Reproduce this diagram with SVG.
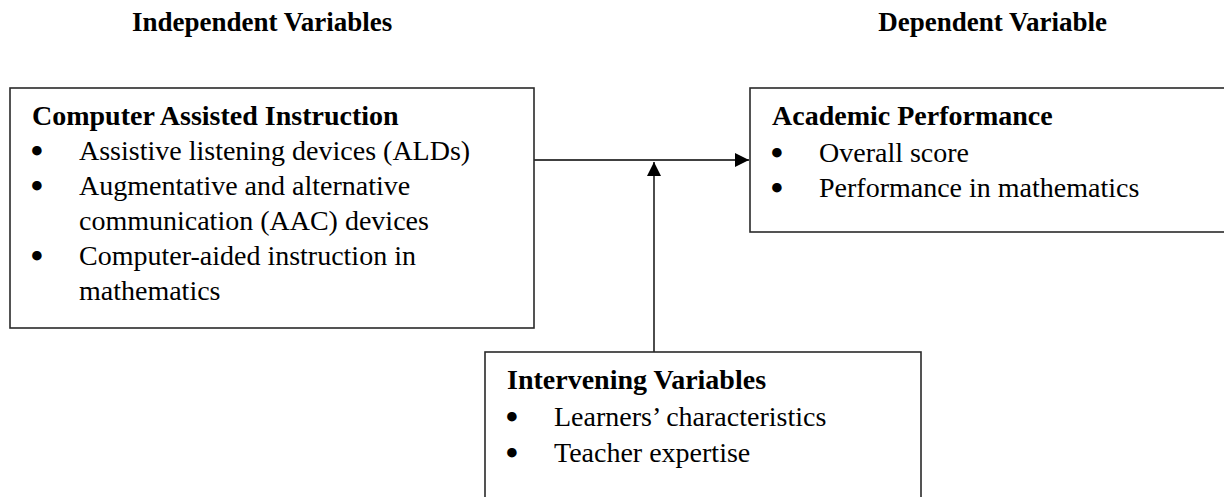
<svg xmlns="http://www.w3.org/2000/svg" width="1224" height="497" viewBox="0 0 1224 497">
<defs>
<style>
.box{fill:#fff;stroke:#2a2a2a;stroke-width:1.6}
.t{font-family:"Liberation Serif","Times New Roman",serif;font-size:28px;fill:#000}
.b{font-weight:bold}
.h{font-family:"Liberation Serif","Times New Roman",serif;font-size:27px;font-weight:bold;fill:#000}
.bul{font-family:"DejaVu Sans",sans-serif;font-size:27px;font-weight:bold;fill:#000;text-anchor:middle}
.con{stroke:#000;stroke-width:1.4;fill:none}
</style>
<marker id="ah" viewBox="0 0 14 14" refX="14" refY="7" markerWidth="14" markerHeight="14" markerUnits="userSpaceOnUse" orient="auto">
<path d="M0,0 L14,7 L0,14 Z" fill="#000"/>
</marker>
</defs>
<rect width="1224" height="497" fill="#fff"/>
<g id="headers">
<text class="h" x="132" y="31">Independent Variables</text>
<text class="h" x="1107" y="31" text-anchor="end">Dependent Variable</text>
</g>
<g id="connectors">
<line class="con" x1="534" y1="160" x2="749" y2="160" marker-end="url(#ah)"/>
<line class="con" x1="654" y1="352" x2="654" y2="162" marker-end="url(#ah)"/>
</g>
<g id="node-cai">
<rect class="box" x="10" y="88" width="524" height="240"/>
<text class="t b" x="32" y="125">Computer Assisted Instruction</text>
<text class="bul" x="37" y="161">•</text>
<text class="t" x="79" y="160">Assistive listening devices (ALDs)</text>
<text class="bul" x="37" y="196">•</text>
<text class="t" x="79" y="195">Augmentative and alternative</text>
<text class="t" x="79" y="230">communication (AAC) devices</text>
<text class="bul" x="37" y="266">•</text>
<text class="t" x="79" y="265">Computer-aided instruction in</text>
<text class="t" x="79" y="300">mathematics</text>
</g>
<g id="node-ap">
<rect class="box" x="750" y="88" width="480" height="144"/>
<text class="t b" x="772" y="125">Academic Performance</text>
<text class="bul" x="777" y="163">•</text>
<text class="t" x="819" y="162">Overall score</text>
<text class="bul" x="777" y="198">•</text>
<text class="t" x="819" y="197">Performance in mathematics</text>
</g>
<g id="node-iv">
<rect class="box" x="485" y="352" width="436" height="160"/>
<text class="t b" x="507" y="389">Intervening Variables</text>
<text class="bul" x="512" y="427">•</text>
<text class="t" x="554" y="426">Learners’ characteristics</text>
<text class="bul" x="512" y="463">•</text>
<text class="t" x="554" y="462">Teacher expertise</text>
</g>
</svg>
